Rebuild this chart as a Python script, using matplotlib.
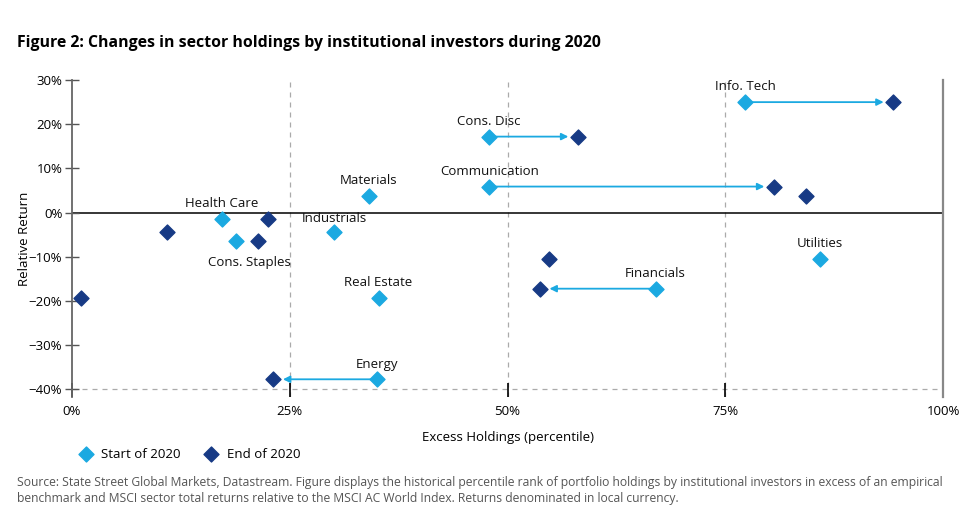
import matplotlib.pyplot as plt
from matplotlib.ticker import PercentFormatter

plt.rcParams['font.family'] = ['Open Sans', 'DejaVu Sans']

sectors = ["Info. Tech", "Cons. Disc", "Communication", "Materials", "Health Care",
           "Cons. Staples", "Industrials", "Real Estate", "Energy", "Financials", "Utilities"]
start_x = [77.3, 47.9, 47.9, 34.1, 17.2, 18.8, 30.1, 35.2, 35.0, 67.0, 85.9]
end_x = [94.3, 58.1, 80.6, 84.3, 22.5, 21.3, 10.9, 1.0, 23.1, 53.7, 54.8]
rel_ret = [25.0, 17.2, 5.9, 3.8, -1.4, -6.5, -4.3, -19.2, -37.7, -17.2, -10.4]
arrow_sectors = ["Info. Tech", "Cons. Disc", "Communication", "Financials", "Energy"]

light = '#1ba9e1'
dark = '#173a85'

fig = plt.figure(figsize=(9.76, 5.22), dpi=100)
ax = fig.add_axes([0.0738, 0.2395, 0.8924, 0.6072])

# guides
for v in [25, 50, 75]:
    ax.axvline(v, color='#aaaaaa', ls=(0, (4, 4)), lw=0.9, zorder=1)
ax.axhline(-40, color='#aaaaaa', ls=(0, (4, 4)), lw=0.9, zorder=1)
ax.axhline(0, color='black', lw=1.1, zorder=1)

# arrows
for name, sx, ex, y in zip(sectors, start_x, end_x, rel_ret):
    if name in arrow_sectors:
        ax.annotate('', xy=(ex, y), xytext=(sx, y),
                    arrowprops=dict(arrowstyle='-|>', color=light, lw=1.3,
                                    shrinkA=4, shrinkB=7, mutation_scale=10),
                    zorder=2)

ax.scatter(start_x, rel_ret, marker='D', s=58, color=light, zorder=3, label='Start of 2020')
ax.scatter(end_x, rel_ret, marker='D', s=58, color=dark, zorder=3, label='End of 2020')

for name, sx, y in zip(sectors, start_x, rel_ret):
    if name == "Cons. Staples":
        off = (10, -15)
    elif name == "Industrials":
        off = (0, 9.5)
    else:
        off = (0, 11)
    ax.annotate(name, (sx, y), xytext=off, textcoords='offset points',
                ha='center', va='center', fontsize=9.5, color='#111111')

ax.set_xlim(0, 100)
ax.set_ylim(-41.7, 30)
ax.set_xticks([0, 25, 50, 75, 100])
ax.set_yticks(range(-40, 31, 10))
ax.xaxis.set_major_formatter(PercentFormatter(decimals=0))
ax.yaxis.set_major_formatter(PercentFormatter(decimals=0))
ax.tick_params(axis='x', direction='in', length=10, width=1.2, color='black',
               labelsize=9.5, pad=6)
ax.tick_params(axis='y', direction='inout', length=10, width=1, color='#555555',
               labelsize=9.5, pad=2)
ax.spines['top'].set_visible(False)
ax.spines['bottom'].set_visible(False)
ax.spines['left'].set_color('#666666')
ax.spines['left'].set_linewidth(1.3)
ax.spines['right'].set_color('#888888')
ax.spines['right'].set_linewidth(1.6)

ax.set_xlabel('Excess Holdings (percentile)', fontsize=9.5, labelpad=9)
ax.set_ylabel('Relative Return', fontsize=9.5, labelpad=-1.5)

fig.text(0.017, 0.917, 'Figure 2: Changes in sector holdings by institutional investors during 2020',
         fontsize=11.4, fontweight='bold', va='center')

fig.legend(loc='center left', bbox_to_anchor=(0.062, 0.13), ncol=2, frameon=False,
           fontsize=9.5, handletextpad=0.2, columnspacing=1.3, markerscale=1.0)

fig.text(0.017, 0.06,
         'Source: State Street Global Markets, Datastream. Figure displays the historical percentile rank of portfolio holdings by institutional investors in excess of an empirical\n'
         'benchmark and MSCI sector total returns relative to the MSCI AC World Index. Returns denominated in local currency.',
         fontsize=8.7, color='#555555', va='center', linespacing=1.35)

fig.savefig('out.png', dpi=100)
